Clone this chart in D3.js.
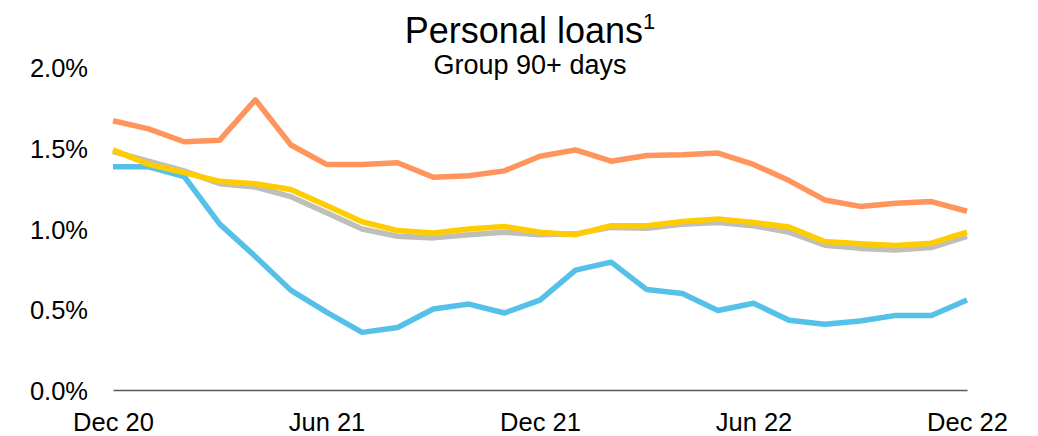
<!DOCTYPE html>
<html>
<head>
<meta charset="utf-8">
<script src="https://cdn.jsdelivr.net/npm/d3@7"></script>
<style>
  html, body { margin: 0; padding: 0; background: #fff; }
  svg { display: block; font-family: "Liberation Sans", Arial, sans-serif; }
</style>
</head>
<body>
<svg id="chart" width="1038" height="436"></svg>
<script>
// Months Dec 20 .. Dec 22
const months = ["Dec 20","Jan 21","Feb 21","Mar 21","Apr 21","May 21","Jun 21","Jul 21","Aug 21","Sep 21","Oct 21","Nov 21",
                "Dec 21","Jan 22","Feb 22","Mar 22","Apr 22","May 22","Jun 22","Jul 22","Aug 22","Sep 22","Oct 22","Nov 22","Dec 22"];
const tickLabels = ["Dec 20","Jun 21","Dec 21","Jun 22","Dec 22"];
const yTicks = [0, 0.5, 1.0, 1.5, 2.0];

const orangeValues = [1.67,1.62,1.54,1.55,1.80,1.52,1.40,1.40,1.41,1.32,1.33,1.36,1.45,1.49,1.42,1.455,1.46,1.47,1.40,1.30,1.18,1.14,1.16,1.17,1.11];
const grayValues   = [1.48,1.42,1.36,1.28,1.26,1.20,1.10,1.00,0.955,0.945,0.965,0.98,0.965,0.97,1.01,1.005,1.03,1.04,1.02,0.98,0.90,0.88,0.87,0.885,0.955];
const yellowValues = [1.49,1.40,1.35,1.295,1.28,1.245,1.145,1.045,0.99,0.975,1.00,1.015,0.98,0.965,1.02,1.02,1.047,1.062,1.04,1.012,0.922,0.908,0.898,0.912,0.98];
const blueValues   = [1.385,1.385,1.325,1.03,0.83,0.62,0.485,0.36,0.39,0.505,0.535,0.48,0.56,0.745,0.795,0.625,0.60,0.495,0.54,0.435,0.41,0.43,0.465,0.465,0.56];

const seriesOrder = [
  {values: blueValues,   color: "#55C1E9"},
  {values: grayValues,   color: "#BFBFBA"},
  {values: yellowValues, color: "#FFCC00"},
  {values: orangeValues, color: "#FF955C"}
];

const svg = d3.select("#chart");
const x = d3.scalePoint().domain(months).range([113, 967]);
const y = d3.scaleLinear().domain([0, 2]).range([390.5, 67.5]);

// Title
const title = svg.append("text")
  .attr("x", 530).attr("y", 43)
  .attr("text-anchor", "middle")
  .attr("font-size", 36).attr("fill", "#000");
title.append("tspan").text("Personal loans");
title.append("tspan").attr("font-size", 22).attr("dy", -14).text("1");

svg.append("text")
  .attr("x", 530).attr("y", 74)
  .attr("text-anchor", "middle")
  .attr("font-size", 27).attr("fill", "#000")
  .text("Group 90+ days");

// Y axis labels (no line)
const yAxis = d3.axisLeft(y).tickValues(yTicks).tickSize(0).tickPadding(0)
  .tickFormat(d => d3.format(".1f")(d) + "%");
const yG = svg.append("g").attr("transform", "translate(88,0)").call(yAxis);
yG.select(".domain").remove();
yG.selectAll("text").attr("font-size", 25.5).attr("fill", "#000")
  .attr("font-family", "'Liberation Sans', Arial, sans-serif").attr("dy", "0.36em");

// X axis
const xAxis = d3.axisBottom(x).tickValues(tickLabels).tickSize(0).tickPadding(0);
const xG = svg.append("g").attr("transform", "translate(0,390)").call(xAxis);
xG.select(".domain").attr("stroke", "#595959").attr("stroke-width", 1.5);
xG.selectAll("text").attr("font-size", 25.5).attr("fill", "#000")
  .attr("font-family", "'Liberation Sans', Arial, sans-serif").attr("y", 41).attr("dy", 0);

// Lines
const line = d3.line().x((d, i) => x(months[i])).y(d => y(d));
seriesOrder.forEach(s => {
  svg.append("path")
    .datum(s.values)
    .attr("d", line)
    .attr("fill", "none")
    .attr("stroke", s.color)
    .attr("stroke-width", 5.5)
    .attr("stroke-linejoin", "round");
});
</script>
</body>
</html>
